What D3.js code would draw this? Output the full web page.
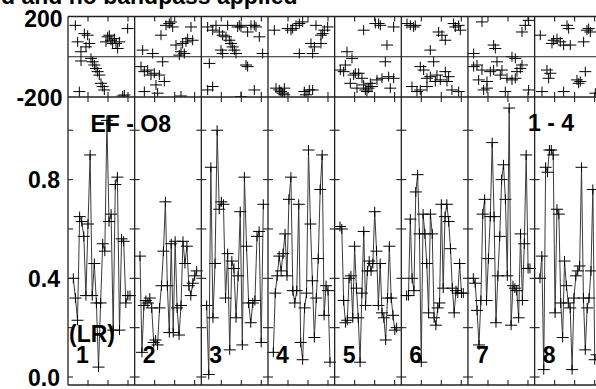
<!DOCTYPE html>
<html><head><meta charset="utf-8">
<script src="https://cdn.jsdelivr.net/npm/d3@7"></script>
<style>html,body{margin:0;padding:0;background:#fff;overflow:hidden}</style>
</head><body><svg id="c" width="596" height="389"></svg>
<script>
// ---------- data ----------
const columns = ["1","2","3","4","5","6","7","8"];
const titleText = "d and no bandpass applied";
const baselineLabel = "EF - O8";
const scanLabel = "1 - 4";
const polLabel = "(LR)";

const ampTicks = [0, 0.2, 0.4, 0.6, 0.8, 1.0];
const ampTickLabels = [0, 0.4, 0.8];
const phaseTickLabels = [200, -200];
const timeTicks = [3, 6, 9];

// amplitude per column (samples in time order)
const amp1 = [0.40,0.32,0.23,0.65,0.63,0.57,0.33,0.62,0.90,0.33,0.46,0.30,0.04,0.30,0.54,0.51,1.04,0.63,0.66,0.19,0.78,0.81,0.19,0.56,0.55,0.30,0.33,0.33];
const amp2 = [0.49,0.10,0.29,0.31,0.30,0.32,0.28,0.14,0.15,0.13,0.28,0.37,0.51,0.71,0.37,0.18,0.54,0.18,0.55,0.28,0.17,0.29,0.55,0.46,0.53,0.37,0.33,0.38,0.41,0.43];
const amp3 = [0.29,0.01,0.85,0.24,0.46,1.00,0.68,0.71,0.70,0.32,0.50,0.11,0.47,0.44,0.24,0.41,0.67,0.13,0.81,0.53,0.30,0.22,0.30,0.31,0.57,0.59,0.14,0.70];
const amp4 = [0.10,0.34,0.41,0.49,0.43,0.50,0.58,0.41,0.72,0.81,0.35,0.30,0.35,0.70,0.14,0.07,0.28,0.34,0.92,0.62,0.39,0.16,0.32,0.48,0.76,0.90,0.25,0.37,0.35,0.06];
const amp5 = [0.61,0.60,0.31,0.22,0.23,0.40,0.41,0.24,0.53,0.36,0.24,0.06,0.34,0.59,0.29,0.43,0.47,0.43,0.46,0.67,0.51,0.29,0.46,0.26,0.24,0.15,0.32,0.53,0.32,0.25,0.19,0.20];
const amp6 = [0.33,0.33,0.64,0.40,0.35,0.75,0.82,0.58,0.06,0.66,0.58,0.46,0.26,0.66,0.58,0.24,0.21,0.28,0.30,0.70,0.36,0.65,0.70,0.63,0.52,0.36,0.26,0.35,0.34,0.46,0.34,0.34];
const amp7 = [0.40,0.38,0.27,0.13,0.31,0.66,0.72,0.31,0.48,0.65,0.95,0.65,0.22,0.41,0.57,0.80,0.86,0.72,0.41,1.09,0.21,0.37,0.36,0.35,0.24,0.58,0.31,0.54,0.90,0.44,0.44];
const amp8 = [0.40,0.49,0.03,0.85,0.83,0.92,0.92,0.90,0.26,0.68,0.66,0.30,0.16,0.47,0.37,0.30,0.28,0.03,0.32,0.41,0.43,0.45,0.85,0.32,0.11,0.28,0.32,0.43,0.76,0.07,0.09];

// phase per column: [time within column (0-10), phase deg]
const phase1 = [[1.1,156],[1.45,74],[1.7,-173],[1.95,25],[1.95,-21],[2.45,115],[2.7,49],[2.95,107],[3.2,66],[3.45,-8],[3.7,-25],[3.95,-41],[4.2,-58],[4.45,-74],[4.7,-91],[4.95,-132],[5.2,-148],[5.45,-165],[5.7,74],[5.95,99],[6.2,107],[6.45,82],[6.7,66],[6.95,90],[7.2,66],[7.45,41],[7.7,74],[8.2,-195],[8.45,-190],[8.95,140]];
const phase2 = [[0.95,-49],[1.2,33],[1.45,-74],[1.45,-173],[1.95,-66],[2.45,-91],[2.7,16],[2.95,-82],[3.2,-140],[3.45,-181],[3.7,-91],[3.95,107],[4.2,-25],[4.45,-123],[4.7,156],[5.2,165],[5.45,173],[5.7,148],[6.2,58],[6.7,8],[6.95,25],[6.95,-195],[7.2,66],[7.45,16],[7.7,74],[7.95,90],[8.45,148],[8.7,82]];
const phase3 = [[0.95,148],[0.95,-165],[1.2,-33],[1.7,132],[1.7,-148],[2.2,156],[2.7,123],[2.95,33],[3.2,107],[3.2,16],[3.7,99],[3.95,156],[4.2,82],[4.45,66],[4.7,49],[4.95,33],[5.2,16],[5.45,148],[5.7,156],[5.95,148],[5.95,-198],[6.7,-41],[6.95,123],[6.95,-49],[7.45,156],[7.95,156],[7.95,-165],[8.2,148],[8.7,99],[9.2,16]];
const phase4 = [[0.95,132],[1.2,-156],[1.7,-165],[1.95,-173],[2.2,-181],[2.45,-156],[2.45,-189],[2.95,140],[3.45,132],[3.7,140],[4.2,156],[4.7,165],[4.7,16],[5.2,173],[5.45,-173],[5.7,-189],[6.2,-165],[6.45,66],[6.7,16],[6.7,-165],[6.95,49],[7.2,156],[7.95,107],[7.95,66],[8.2,115],[8.45,132],[8.95,148]];
const phase5 = [[0.85,-66],[1.35,-74],[1.6,-41],[1.85,25],[2.35,-132],[2.6,-8],[2.85,-91],[3.1,-82],[3.35,-156],[3.6,-82],[4.1,-107],[4.35,132],[4.35,-140],[4.6,-165],[4.85,-173],[5.1,-156],[5.35,-132],[5.6,-148],[6.1,165],[6.35,-115],[6.6,165],[6.85,156],[7.1,-107],[7.6,-25],[7.85,58],[8.1,-99],[8.35,-156],[8.85,148],[8.85,-107]];
const phase6 = [[0.85,165],[1.35,156],[1.6,-148],[1.85,148],[2.1,156],[2.35,-173],[2.85,-49],[2.85,-165],[3.35,-66],[3.85,-107],[3.85,-148],[4.35,33],[4.35,-99],[4.85,-25],[5.1,-123],[5.35,-91],[5.6,123],[5.85,-115],[6.1,107],[6.6,82],[6.6,-74],[6.85,-123],[7.1,-99],[7.6,-165],[7.85,165],[8.1,148],[8.6,156],[8.6,-173],[8.85,132]];
const phase7 = [[0.85,16],[0.85,-49],[1.35,-41],[1.6,-115],[2.1,173],[2.1,-66],[2.35,-165],[2.85,-123],[2.85,-156],[3.35,-74],[3.85,58],[3.85,-66],[4.1,41],[4.35,-25],[4.85,-91],[5.1,-66],[5.6,-173],[5.85,-107],[6.6,0],[6.6,-115],[7.1,-8],[7.1,-107],[7.35,-74],[7.85,-58],[8.1,123],[8.1,-41],[8.6,156],[9.1,181],[9.1,-165]];
const phase8 = [[0.85,107],[1.1,-173],[1.85,-66],[2.1,-107],[2.35,-82],[2.6,66],[2.85,82],[3.35,90],[3.85,74],[4.35,58],[4.35,-173],[4.85,156],[5.1,140],[5.35,58],[6.35,-115],[6.6,-132],[6.85,-123],[7.35,74],[7.6,-74],[7.85,132],[8.1,140],[8.35,123],[9.1,-181]];

const ampSeries = [amp1,amp2,amp3,amp4,amp5,amp6,amp7,amp8];
const phaseSeries = [phase1,phase2,phase3,phase4,phase5,phase6,phase7,phase8];

// ---------- layout ----------
const svg = d3.select("#c");
const L = 68, R = 601.3, topY = 16.5, midY = 97, botY = 385;
const FONT = "'Liberation Sans', Arial, Helvetica, sans-serif";
const col = d3.scaleLinear().domain([0, 8]).range([L, R]);
const cw = col(1) - col(0);
const tx = d3.scaleLinear().domain([0, 10]).range([0, cw]);
const yA = d3.scaleLinear().domain([-0.0324, 1.1348]).range([botY, midY]);
const yP = d3.scaleLinear().domain([-200, 200]).range([midY, topY]);
const TK = 5;
const frameColor = "#222";

const defs = svg.append("defs");
defs.append("clipPath").attr("id","clipTop").append("rect")
  .attr("x", L).attr("y", topY).attr("width", R - L).attr("height", midY - topY);
defs.append("clipPath").attr("id","clipBot").append("rect")
  .attr("x", L).attr("y", midY).attr("width", R - L).attr("height", botY - midY);

const plus = "M-6,0H6M0,-5V5";

// amplitude lines & markers
const gBot = svg.append("g").attr("clip-path","url(#clipBot)");
ampSeries.forEach((arr, c) => {
  const tScale = d3.scaleLinear().domain([0, arr.length - 1]).range([0.8, 9.3]);
  const pts = arr.map((v, i) => [col(c) + tx(tScale(i)), yA(v)]);
  gBot.append("path").attr("d", d3.line()(pts))
    .attr("fill","none").attr("stroke","#3a3a3a").attr("stroke-width",1);
  gBot.selectAll(null).data(pts).enter().append("path")
    .attr("transform", d => `translate(${d[0]},${d[1]})`)
    .attr("d", plus).attr("stroke","#000").attr("stroke-width",1).attr("fill","none");
});

// phase markers
const gTop = svg.append("g").attr("clip-path","url(#clipTop)");
phaseSeries.forEach((arr, c) => {
  gTop.selectAll(null).data(arr).enter().append("path")
    .attr("transform", d => `translate(${col(c) + tx(d[0])},${yP(d[1])})`)
    .attr("d", plus).attr("stroke","#000").attr("stroke-width",1).attr("fill","none");
});

// frames
const gF = svg.append("g").attr("stroke", frameColor).attr("stroke-width", 1.3).attr("fill","none");
[topY, midY, botY].forEach(y => gF.append("line").attr("x1", L).attr("x2", R).attr("y1", y).attr("y2", y));
gF.append("line").attr("x1", L).attr("x2", R).attr("y1", yP(0)).attr("y2", yP(0)).attr("stroke-width",1.1);
d3.range(9).forEach(k => gF.append("line").attr("x1", col(k)).attr("x2", col(k)).attr("y1", topY).attr("y2", botY));

// ticks
const gT = svg.append("g").attr("stroke", frameColor).attr("stroke-width", 1.1);
columns.forEach((_, c) => {
  timeTicks.forEach(t => {
    const x = col(c) + tx(t);
    gT.append("line").attr("x1", x).attr("x2", x).attr("y1", topY).attr("y2", topY + TK);
    gT.append("line").attr("x1", x).attr("x2", x).attr("y1", midY - TK).attr("y2", midY + TK);
    gT.append("line").attr("x1", x).attr("x2", x).attr("y1", botY - TK).attr("y2", botY);
  });
  ampTicks.forEach(v => {
    const y = yA(v);
    gT.append("line").attr("x1", col(c)).attr("x2", col(c) + TK).attr("y1", y).attr("y2", y);
    gT.append("line").attr("x1", col(c + 1) - TK).attr("x2", col(c + 1)).attr("y1", y).attr("y2", y);
  });
});

// text
const txt = (s, x, y, anchor) => svg.append("text").text(s)
  .attr("x", x).attr("y", y).attr("text-anchor", anchor || "start")
  .attr("font-family", FONT).attr("font-weight", "bold").attr("font-size", 23).attr("fill", "#000");

txt(titleText, 297.5, 4, "end");
ampTickLabels.forEach(v => txt(d3.format(".1f")(v), 60, yA(v) + 8.7, "end"));
txt(String(phaseTickLabels[0]), 62.5, 27, "end");
txt(String(phaseTickLabels[1]), 62.5, 106, "end");
txt(baselineLabel, 90.5, 132);
txt(scanLabel, 528, 131);
txt(polLabel, 69, 342);
columns.forEach((s, c) => txt(s, col(c) + 8, 363));
</script>
</body></html>
